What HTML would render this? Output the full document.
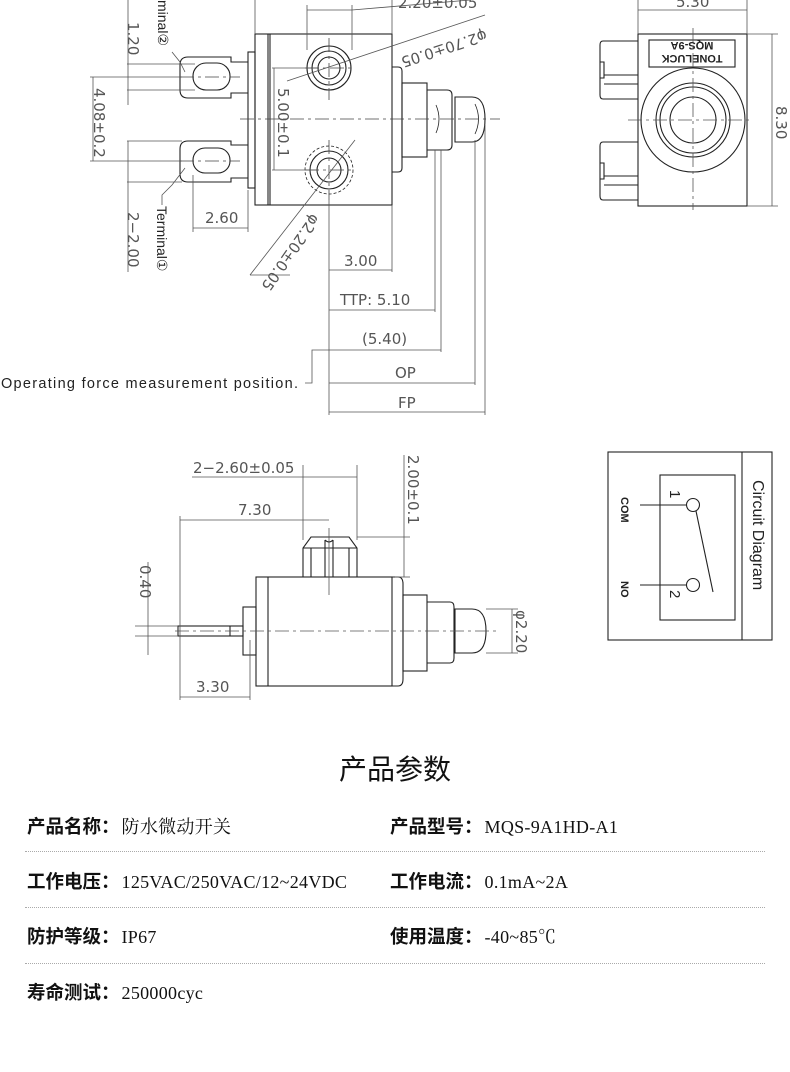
<!DOCTYPE html>
<html><head><meta charset="utf-8"><style>
html,body{margin:0;padding:0;background:#fff;width:790px;height:1072px;overflow:hidden}
svg{position:absolute;left:0;top:0}
svg text{stroke:none}
.t{font-family:"DejaVu Sans","Liberation Sans",sans-serif;fill:#555;font-size:15px;font-weight:normal}
.k{font-family:"Liberation Sans",sans-serif;fill:#222}
.row{position:absolute;font-family:"Liberation Serif","Noto Serif CJK SC",serif;font-size:18px;color:#111;white-space:nowrap}
.row b{font-family:"Liberation Sans","Noto Sans CJK SC",sans-serif;font-weight:bold;font-size:18.5px}
.row span{letter-spacing:0.3px;margin-left:2px}
.dl{position:absolute;left:25px;width:740px;border-top:1px dotted #aaa}
</style></head><body>
<svg width="790" height="740" viewBox="0 0 790 740" fill="none" stroke="#222" stroke-width="1.1">
<!-- TOP VIEW -->
<rect x="255" y="34" width="137" height="171"/>
<line x1="268" y1="34" x2="268" y2="205"/><line x1="270" y1="34" x2="270" y2="205"/>
<rect x="248" y="52" width="7" height="136"/>
<path d="M248 62 H231 V57 H188 Q180 57 180 65 V90 Q180 98 188 98 H231 V93 H248"/>
<rect x="193" y="63" width="37" height="27" rx="13"/>
<path d="M248 145 H231 V141 H188 Q180 141 180 149 V174 Q180 182 188 182 H231 V178 H248"/>
<rect x="193" y="148" width="37" height="25" rx="12"/>
<circle cx="329" cy="68" r="22"/><circle cx="329" cy="68" r="17"/><circle cx="329" cy="68" r="11"/>
<circle cx="329" cy="170" r="24" stroke-dasharray="3 2" stroke-width="0.8"/><circle cx="329" cy="170" r="19"/><circle cx="329" cy="170" r="12"/>
<path d="M392 67 H398 Q402 67 402 71 V168 Q402 172 398 172 H392"/>
<rect x="402" y="83" width="25" height="74"/>
<path d="M427 90 H447 Q452 90 452 95 V145 Q452 150 447 150 H427"/>
<path d="M455 97 H472 Q485 97 485 119 Q485 142 472 142 H455 Z"/>
<path d="M436 105 Q442 119 436 133 M475 104 Q482 119 475 134" stroke-width="0.8"/>
<g stroke="#444" stroke-width="0.8" stroke-dasharray="14 4 3 4">
<line x1="240" y1="119" x2="500" y2="119"/><line x1="180" y1="77" x2="240" y2="77"/><line x1="180" y1="161" x2="240" y2="161"/>
<line x1="329" y1="38" x2="329" y2="100"/><line x1="305" y1="68" x2="355" y2="68"/><line x1="305" y1="170" x2="355" y2="170"/><line x1="329" y1="140" x2="329" y2="200"/></g>
<g stroke="#555" stroke-width="0.8">
<line x1="127" y1="64" x2="195" y2="64"/><line x1="127" y1="90" x2="195" y2="90"/><line x1="128" y1="0" x2="128" y2="105"/>
<line x1="90" y1="77" x2="182" y2="77"/><line x1="90" y1="161" x2="182" y2="161"/><line x1="93" y1="77" x2="93" y2="161"/>
<line x1="127" y1="141" x2="182" y2="141"/><line x1="127" y1="182" x2="182" y2="182"/><line x1="128" y1="141" x2="128" y2="272"/>
<line x1="193" y1="175" x2="193" y2="232"/><line x1="248" y1="190" x2="248" y2="232"/><line x1="193" y1="228" x2="248" y2="228"/>
<line x1="272" y1="68" x2="318" y2="68"/><line x1="272" y1="170" x2="318" y2="170"/><line x1="274" y1="68" x2="274" y2="170"/>
<line x1="307" y1="5" x2="307" y2="50"/><line x1="352" y1="5" x2="352" y2="50"/><line x1="307" y1="10" x2="352" y2="10"/><line x1="255" y1="0" x2="255" y2="34"/><line x1="392" y1="0" x2="392" y2="34"/><line x1="352" y1="10" x2="470" y2="0"/>
<line x1="287" y1="81" x2="485" y2="15"/><line x1="250" y1="275" x2="355" y2="140"/><line x1="250" y1="275" x2="290" y2="275"/>
<line x1="392" y1="205" x2="392" y2="272"/><line x1="435" y1="150" x2="435" y2="312"/><line x1="441" y1="150" x2="441" y2="352"/><line x1="475" y1="140" x2="475" y2="385"/><line x1="485" y1="125" x2="485" y2="415"/>
<line x1="329" y1="200" x2="329" y2="415"/>
<line x1="329" y1="270" x2="392" y2="270"/><line x1="329" y1="310" x2="435" y2="310"/><line x1="329" y1="350" x2="441" y2="350"/><line x1="329" y1="383" x2="475" y2="383"/><line x1="329" y1="412" x2="485" y2="412"/>
<path d="M305 383 H312 V350 H329"/>
<path d="M172 52 L180 62 L185 72"/><path d="M185 168 L172 185 L162 195 V205"/>
</g>
<text class="t" transform="translate(128,22) rotate(90)" font-size="14">1.20</text>
<text class="t" transform="translate(94,88) rotate(90)" font-size="14">4.08±0.2</text>
<text class="t" transform="translate(128,212) rotate(90)" font-size="14">2−2.00</text>
<text class="k" transform="translate(157,206) rotate(90)" font-size="14">Terminal①</text>
<text class="k" transform="translate(158,0) rotate(90)" font-size="14">minal②</text>
<text class="t" x="205" y="223" font-size="14">2.60</text>
<text class="t" transform="translate(278,88) rotate(90)" font-size="14">5.00±0.1</text>
<text class="t" x="398" y="8" font-size="14">2.20±0.05</text>
<text class="t" transform="translate(485,30) rotate(162)" font-size="13">φ2.70±0.05</text>
<text class="t" transform="translate(312,213) rotate(125)" font-size="13">φ2.20±0.05</text>
<text class="t" x="344" y="266" font-size="14">3.00</text>
<text class="t" x="340" y="305" font-size="14">TTP: 5.10</text>
<text class="t" x="362" y="344" font-size="14">(5.40)</text>
<text class="t" x="395" y="378" font-size="14">OP</text>
<text class="t" x="398" y="408" font-size="14">FP</text>
<text class="k" x="1" y="388" font-size="14.5" textLength="297" fill="#333">Operating force measurement position.</text>
<!-- RIGHT VIEW -->
<rect x="638" y="34" width="109" height="172"/>
<path d="M638 41 H603 Q600 41 600 45 V95 Q600 99 603 99 H638 M600 62 H604 V78 H600 M604 75 H638 M604 84 H638"/>
<path d="M638 142 H603 Q600 142 600 146 V196 Q600 200 603 200 H638 M600 163 H604 V179 H600 M604 176 H638 M604 185 H638"/>
<rect x="649" y="40" width="86" height="27"/>
<text class="k" transform="translate(692,42) rotate(180)" font-size="11" font-weight="bold" text-anchor="middle">MQS-9A</text>
<text class="k" transform="translate(692,55) rotate(180)" font-size="11" font-weight="bold" text-anchor="middle">TONELUCK</text>
<circle cx="693" cy="120" r="52"/><circle cx="693" cy="120" r="37"/><circle cx="693" cy="120" r="33"/><circle cx="693" cy="120" r="23"/>
<g stroke="#555" stroke-width="0.8"><line x1="628" y1="120" x2="750" y2="120" stroke-dasharray="14 4 3 4"/><line x1="693" y1="28" x2="693" y2="210" stroke-dasharray="14 4 3 4"/>
<line x1="638" y1="0" x2="638" y2="34"/><line x1="747" y1="0" x2="747" y2="34"/><line x1="638" y1="10" x2="747" y2="10"/>
<line x1="747" y1="34" x2="778" y2="34"/><line x1="747" y1="206" x2="778" y2="206"/><line x1="772" y1="34" x2="772" y2="206"/></g>
<text class="t" x="676" y="7" font-size="14">5.30</text>
<text class="t" transform="translate(776,106) rotate(90)" font-size="15">8.30</text>
<!-- SIDE VIEW -->
<rect x="256" y="577" width="136" height="109"/>
<line x1="268" y1="577" x2="268" y2="686"/>
<path d="M392 577 H398 Q403 577 403 584 V679 Q403 686 398 686 H392"/>
<rect x="403" y="595" width="24" height="76"/>
<path d="M427 602 H450 Q454 602 454 607 V658 Q454 663 450 663 H427"/>
<path d="M455 609 H472 Q486 609 486 631 Q486 653 472 653 H455 Z"/>
<rect x="243" y="607" width="13" height="48"/>
<rect x="178" y="626" width="65" height="10"/><line x1="230" y1="626" x2="230" y2="636"/>
<path d="M303 577 V548 L311 537 H349 L357 548 V577 M303 548 H357 M325 540 V577 M333 540 V577 M325 540 Q329 544 333 540 M311 548 V577 M349 548 V577"/>
<g stroke="#555" stroke-width="0.8">
<line x1="175" y1="631" x2="500" y2="631" stroke-dasharray="14 4 3 4"/><line x1="329" y1="528" x2="329" y2="595"/>
<line x1="303" y1="465" x2="303" y2="540"/><line x1="357" y1="465" x2="357" y2="540"/><line x1="192" y1="477" x2="357" y2="477"/>
<line x1="180" y1="516" x2="180" y2="700"/><line x1="180" y1="520" x2="329" y2="520"/>
<line x1="357" y1="537" x2="410" y2="537"/><line x1="395" y1="577" x2="410" y2="577"/><line x1="404" y1="455" x2="404" y2="577"/>
<line x1="148" y1="562" x2="148" y2="655"/><line x1="135" y1="626" x2="178" y2="626"/><line x1="135" y1="636" x2="178" y2="636"/>
<line x1="250" y1="640" x2="250" y2="700"/><line x1="180" y1="697" x2="250" y2="697"/>
<line x1="486" y1="609" x2="518" y2="609"/><line x1="486" y1="653" x2="518" y2="653"/><line x1="512" y1="609" x2="512" y2="653"/></g>
<text class="t" x="193" y="473" font-size="14">2−2.60±0.05</text>
<text class="t" x="238" y="515" font-size="14">7.30</text>
<text class="t" transform="translate(408,455) rotate(90)" font-size="14">2.00±0.1</text>
<text class="t" transform="translate(140,565) rotate(90)" font-size="14">0.40</text>
<text class="t" x="196" y="692" font-size="14">3.30</text>
<text class="t" transform="translate(516,610) rotate(90)" font-size="13">φ2.20</text>
<!-- CIRCUIT -->
<rect x="608" y="452" width="164" height="188"/><line x1="742" y1="452" x2="742" y2="640"/>
<rect x="660" y="475" width="75" height="145"/>
<circle cx="693" cy="505" r="6.5"/><circle cx="693" cy="585" r="6.5"/>
<line x1="640" y1="505" x2="686" y2="505"/><line x1="640" y1="585" x2="686" y2="585"/><line x1="696" y1="511" x2="713" y2="592"/>
<text class="k" transform="translate(621,497) rotate(90)" font-size="11" font-weight="bold">COM</text>
<text class="k" transform="translate(621,581) rotate(90)" font-size="11" font-weight="bold">NO</text>
<text class="k" transform="translate(670,490) rotate(90)" font-size="15">1</text>
<text class="k" transform="translate(670,590) rotate(90)" font-size="15">2</text>
<text class="k" transform="translate(753,480) rotate(90)" font-size="16" fill="#333">Circuit Diagram</text>
</svg>
<div style="position:absolute;left:0;width:790px;top:748px;text-align:center;font-family:'Liberation Sans','Noto Sans CJK SC',sans-serif;font-size:28px;color:#111">产品参数</div>
<div class="row" style="left:27px;top:813px"><b>产品名称：</b><span>防水微动开关</span></div>
<div class="row" style="left:390px;top:813px"><b>产品型号：</b><span>MQS-9A1HD-A1</span></div>
<div class="dl" style="top:851px"></div>
<div class="row" style="left:27px;top:868px"><b>工作电压：</b><span>125VAC/250VAC/12~24VDC</span></div>
<div class="row" style="left:390px;top:868px"><b>工作电流：</b><span>0.1mA~2A</span></div>
<div class="dl" style="top:907px"></div>
<div class="row" style="left:27px;top:923px"><b>防护等级：</b><span>IP67</span></div>
<div class="row" style="left:390px;top:923px"><b>使用温度：</b><span>-40~85℃</span></div>
<div class="dl" style="top:963px"></div>
<div class="row" style="left:27px;top:979px"><b>寿命测试：</b><span>250000cyc</span></div>
</body></html>
